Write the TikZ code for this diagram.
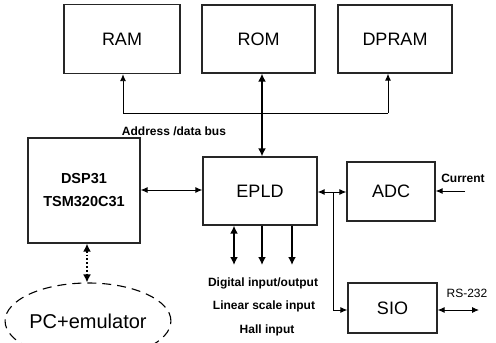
\documentclass[tikz,border=0pt]{standalone}
\usepackage{fontspec}
\setmainfont{Liberation Sans}
\usetikzlibrary{arrows.meta,shapes.geometric}
\begin{document}
\begin{tikzpicture}[x=1pt,y=-1pt,
  blk/.style={draw=black!85,line width=1.3pt,inner sep=0pt,font=\fontsize{18}{20}\selectfont},
  lbl/.style={inner sep=0pt,font=\bfseries\fontsize{12}{14}\selectfont},
  conn/.style={line width=0.9pt,-{Latex[length=7pt,width=6pt]}},
  bconn/.style={line width=0.9pt,{Latex[length=7pt,width=6pt]}-{Latex[length=7pt,width=6pt]}},
  tconn/.style={line width=1.8pt,-{Latex[length=8pt,width=8pt]}},
  tbconn/.style={line width=1.8pt,{Latex[length=8pt,width=8pt]}-{Latex[length=8pt,width=8pt]}}]
\useasboundingbox (0,0) rectangle (496,343);
\node[blk,minimum width=116pt,minimum height=69pt] (ram) at (122,39) {RAM};
\node[blk,minimum width=113pt,minimum height=68pt] (rom) at (258.5,39) {ROM};
\node[blk,minimum width=114pt,minimum height=68pt] (dpram) at (395,39) {DPRAM};
\node[blk,minimum width=112pt,minimum height=105pt,align=center,font=\bfseries\fontsize{14.5}{23}\selectfont] (dsp) at (84,190.5) {DSP31\\TSM320C31};
\node[blk,minimum width=114pt,minimum height=68pt] (epld) at (260,191) {EPLD};
\node[blk,minimum width=88pt,minimum height=59pt] (adc) at (391,191.5) {ADC};
\node[blk,minimum width=89pt,minimum height=50pt] (sio) at (392.5,308) {SIO};
\node[draw,line width=1.1pt,dash pattern=on 9pt off 6pt,ellipse,minimum width=150pt,minimum height=76pt,inner sep=0pt,font=\fontsize{20}{22}\selectfont] (pc) at (88,321) {PC+emulator};

\node[lbl] (bus) at (174,131) {Address /data bus};
\node[lbl] (cur) at (463,178) {Current};
\node[lbl,font=\fontsize{12}{14}\selectfont] (rs) at (467,293) {RS-232};
\node[lbl] (dio) at (263,283) {Digital input/output};
\node[lbl] (lin) at (264,306) {Linear scale input};
\node[lbl] (hall) at (267,330) {Hall input};

\coordinate (bl) at (123,113);
\coordinate (br) at (388,113);
\coordinate (j) at (333,192);
\coordinate (curin) at (465,191);
\coordinate (rsout) at (479,310);
\coordinate (d1) at (234,265);
\coordinate (d2) at (262,265);
\coordinate (d3) at (292,265);

\draw[conn] (bl) -- (bl |- ram.south);
\draw[conn] (br) -- (br |- dpram.south);
\draw[line width=0.9pt] (bl) -- (br);
\draw[tbconn] (262,0 |- epld.north) -- (262,0 |- rom.south);
\draw[bconn] (dsp.east |- 0,190) -- (epld.west |- 0,190);
\draw[bconn] (epld.east |- j) -- (adc.west |- j);
\draw[conn] (j) |- (sio.west |- 0,310);
\draw[conn] (curin) -- (adc.east |- curin);
\draw[bconn] (sio.east |- rsout) -- (rsout);
\draw[tbconn] (d1 |- epld.south) -- (d1);
\draw[tconn] (d2 |- epld.south) -- (d2);
\draw[tconn] (d3 |- epld.south) -- (d3);
\draw[line width=1.8pt,dotted,{Latex[length=8pt,width=8pt]}-{Latex[length=8pt,width=8pt]}] (87,0 |- dsp.south) -- (87,0 |- pc.north);
\end{tikzpicture}
\end{document}
